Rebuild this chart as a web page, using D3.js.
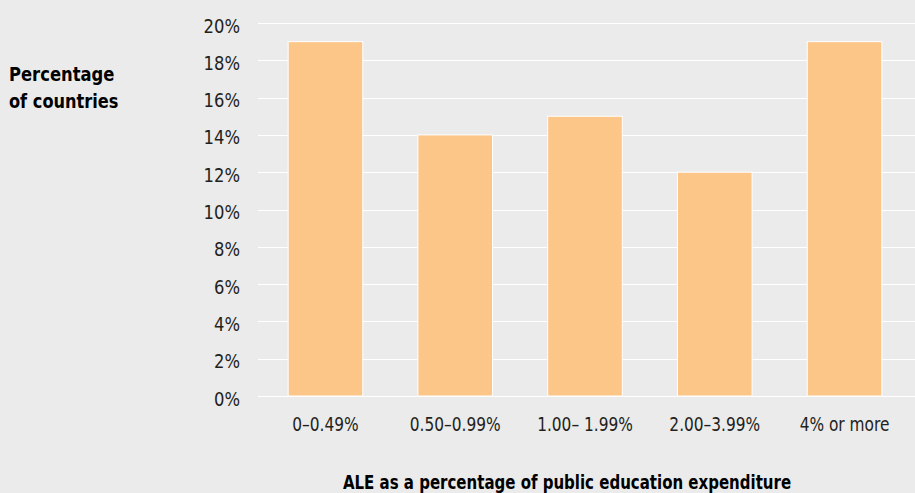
<!DOCTYPE html>
<html>
<head>
<meta charset="utf-8">
<script src="https://cdn.jsdelivr.net/npm/d3@7.9.0/dist/d3.min.js"></script>
<style>
  html, body { margin: 0; padding: 0; background: #ebebeb; }
  svg { display: block; font-family: "DejaVu Sans", sans-serif; }
</style>
</head>
<body>
<svg id="chart" width="915" height="493"></svg>
<script>
// Data
const categories = ['0–0.49%', '0.50–0.99%', '1.00– 1.99%', '2.00–3.99%', '4% or more'];
const shares = [0.19, 0.14, 0.15, 0.12, 0.19];
const yTicks = [0, 0.02, 0.04, 0.06, 0.08, 0.10, 0.12, 0.14, 0.16, 0.18, 0.20];

const svg = d3.select('#chart');

// no condensed font installed, so squeeze the text horizontally
const squeeze = (x, y, s) => `translate(${x},${y}) scale(${s},1)`;

svg.append('rect')
  .attr('width', 915)
  .attr('height', 493)
  .attr('fill', '#ebebeb');

let x = d3.scaleBand()
  .domain(categories)
  .range([257, 913])
  .paddingInner(0.425)
  .paddingOuter(0.24);

let y = d3.scaleLinear()
  .domain([0, 0.2])
  .range([396, 23]);

// gridlines
svg.append('g')
  .selectAll('line')
  .data(yTicks)
  .join('line')
  .attr('x1', 258)
  .attr('x2', 915)
  .attr('y1', (d) => Math.round(y(d)) + 0.5)
  .attr('y2', (d) => Math.round(y(d)) + 0.5)
  .attr('stroke', '#ffffff')
  .attr('stroke-width', 1.2);

// y tick labels
svg.append('g')
  .selectAll('text')
  .data(yTicks)
  .join('text')
  .attr('transform', (d) => squeeze(240, y(d) + 9.5, 0.82))
  .attr('text-anchor', 'end')
  .attr('font-size', 20)
  .attr('fill', '#231f20')
  .text((d) => d3.format('.0%')(d));

// bars
svg.append('g')
  .selectAll('rect')
  .data(shares)
  .join('rect')
  .attr('x', (d, i) => x(categories[i]))
  .attr('y', (d) => y(d))
  .attr('width', x.bandwidth())
  .attr('height', (d) => y(0) - y(d))
  .attr('fill', '#fcc689')
  .attr('stroke', '#ffffff')
  .attr('stroke-width', 1);

// x tick labels
svg.append('g')
  .selectAll('text')
  .data(categories)
  .join('text')
  .attr('transform', (d) => squeeze(x(d) + x.bandwidth() / 2, 431, 0.77))
  .attr('text-anchor', 'middle')
  .attr('font-size', 20)
  .attr('fill', '#231f20')
  .text((d) => d);

// y axis title
svg.append('text')
  .attr('transform', squeeze(9, 80.5, 0.82))
  .attr('font-size', 20)
  .attr('font-weight', 'bold')
  .attr('fill', '#000')
  .text('Percentage');
svg.append('text')
  .attr('transform', squeeze(9, 107.5, 0.81))
  .attr('font-size', 20)
  .attr('font-weight', 'bold')
  .attr('fill', '#000')
  .text('of countries');

// x axis title
svg.append('text')
  .attr('transform', squeeze(567, 488.5, 0.79))
  .attr('text-anchor', 'middle')
  .attr('font-size', 19)
  .attr('font-weight', 'bold')
  .attr('fill', '#000')
  .text('ALE as a percentage of public education expenditure');
</script>
</body>
</html>
